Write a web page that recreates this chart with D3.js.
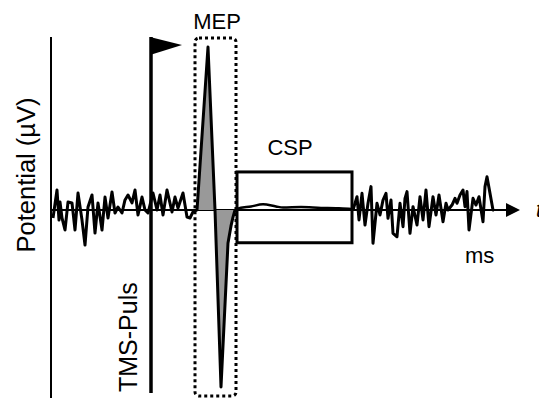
<!DOCTYPE html>
<html>
<head>
<meta charset="utf-8">
<script src="https://cdn.jsdelivr.net/npm/d3@7/dist/d3.min.js"></script>
<style>
  html, body { margin: 0; padding: 0; background: #fff; }
  svg { display: block; }
  text { font-family: "Liberation Sans", Arial, sans-serif; fill: #000; }
</style>
</head>
<body>
<script>
// Recorded EMG trace: time in ms relative to the TMS pulse, amplitude in µV.
const preStimulusNoise = [
  [-98, -45], [-94, 113], [-92, -57], [-91, 45], [-89, -45], [-86, -113],
  [-83, 45], [-79, 40], [-76, -113], [-73, 96], [-69, -57], [-66, -198],
  [-63, 17], [-59, 85], [-56, -130], [-53, 40], [-49, -113], [-46, 73],
  [-43, -45], [-39, 102], [-36, -17], [-33, 17], [-29, -17], [-26, 57],
  [-23, 85], [-19, 40], [-16, 113], [-13, -28], [-9, 73], [-6, 0],
  [-3, -17], [2, 96], [6, 0], [9, 85], [12, -28], [16, 113], [21, -11],
  [24, 73], [27, 11], [32, 96], [36, -40], [39, -45], [42, -11]
];
// Motor evoked potential: positive and negative phase.
const mepResponse = [
  [46, 0], [57, 921], [64, 0], [70, -1000], [77, -186], [80, -90], [82, -40], [84, 0]
];
// Cortical silent period: near-flat trace.
const silentPeriod = [
  [86, 6], [100, 20], [112, 32], [125, 20], [132, 14], [150, 17],
  [170, 12], [185, 10], [200, 5]
];
// Recovery of background activity.
const postSilentNoise = [
  [202, 0], [206, 75], [208, -56], [211, 94], [214, -85], [217, 38],
  [220, 132], [222, -188], [226, 38], [229, -28], [232, 56], [235, 94],
  [237, -47], [240, 56], [242, -132], [246, -151], [249, 38], [252, -94],
  [254, 66], [256, 104], [259, -132], [262, 19], [266, -85], [269, 75],
  [272, -56], [275, 113], [278, -94], [282, 75], [285, -28], [288, 85],
  [292, -66], [295, 38], [297, 0], [301, 28], [304, 66], [306, 38],
  [309, 85], [312, 113], [314, 19], [316, 104], [318, -113], [322, 66],
  [325, 28], [328, 75], [332, -66], [334, 132], [336, 188], [339, 94],
  [342, 0], [343, 0]
];

// Annotation windows (ms / µV)
const tmsPulseTime = [0];
const mepWindow = [44, 85];
const cspWindow = [86, 201];
const cspRange = [-185, 215];
const labels = {
  y: "Potential (µV)", x: "t", unit: "ms",
  pulse: "TMS-Puls", mep: "MEP", csp: "CSP"
};

const W = 539, H = 401;
const x = d3.scaleLinear().domain([-100, 369]).range([51, 520]);
const y = d3.scaleLinear().domain([-1000, 1000]).range([387, 33]);
const frameTop = 37, frameBottom = 398;

const svg = d3.select("body").append("svg")
  .attr("width", W).attr("height", H);

// Vertical axis
svg.append("line")
  .attr("x1", x(-100)).attr("x2", x(-100))
  .attr("y1", frameTop).attr("y2", frameBottom)
  .attr("stroke", "#000").attr("stroke-width", 2);

// Time axis with arrowhead
const axisEnd = x(369);
svg.append("line")
  .attr("x1", x(-100)).attr("x2", axisEnd - 12)
  .attr("y1", y(0)).attr("y2", y(0))
  .attr("stroke", "#000").attr("stroke-width", 2.2);
svg.append("path")
  .attr("d", `M${axisEnd - 14},${y(0) - 7} L${axisEnd},${y(0)} L${axisEnd - 14},${y(0) + 7} Z`)
  .attr("fill", "#000");

// Shaded MEP area
const area = d3.area()
  .x(d => x(d[0])).y0(y(0)).y1(d => y(d[1]));
svg.append("path")
  .datum(mepResponse)
  .attr("d", area)
  .attr("fill", "#999");

// Trace
const line = d3.line().x(d => x(d[0])).y(d => y(d[1]));
const trace = preStimulusNoise.concat(mepResponse);
svg.append("path")
  .datum(trace)
  .attr("d", line)
  .attr("fill", "none").attr("stroke", "#000")
  .attr("stroke-width", 3).attr("stroke-linejoin", "round");

svg.append("path")
  .datum([[84, 0]].concat(silentPeriod, [[202, 0]]))
  .attr("d", line.curve(d3.curveMonotoneX))
  .attr("fill", "none").attr("stroke", "#000")
  .attr("stroke-width", 2.5);
line.curve(d3.curveLinear);

svg.append("path")
  .datum(postSilentNoise)
  .attr("d", line)
  .attr("fill", "none").attr("stroke", "#000")
  .attr("stroke-width", 3).attr("stroke-linejoin", "round");

// TMS pulse marker with flag
const px = x(tmsPulseTime[0]);
svg.append("line")
  .attr("x1", px).attr("x2", px)
  .attr("y1", frameTop).attr("y2", 393)
  .attr("stroke", "#000").attr("stroke-width", 3.5);
svg.append("path")
  .attr("d", `M${px - 1},${frameTop} L${px + 31},${frameTop + 8} L${px - 1},${frameTop + 18} Z`)
  .attr("fill", "#000");

// MEP window (dotted)
svg.append("rect")
  .attr("x", x(mepWindow[0])).attr("y", 38)
  .attr("width", x(mepWindow[1]) - x(mepWindow[0]))
  .attr("height", 396 - 38)
  .attr("rx", 4)
  .attr("fill", "none").attr("stroke", "#000")
  .attr("stroke-width", 3).attr("stroke-dasharray", "3 3");

// CSP window
svg.append("rect")
  .attr("x", x(cspWindow[0])).attr("y", y(cspRange[1]))
  .attr("width", x(cspWindow[1]) - x(cspWindow[0]))
  .attr("height", y(cspRange[0]) - y(cspRange[1]))
  .attr("fill", "none").attr("stroke", "#000").attr("stroke-width", 3);

// Labels
const fs = 22;
svg.append("text").text(labels.mep)
  .attr("x", 217).attr("y", 29).attr("text-anchor", "middle")
  .style("font-size", fs + "px");
svg.append("text").text(labels.csp)
  .attr("x", 290).attr("y", 155).attr("text-anchor", "middle")
  .style("font-size", fs + "px");
svg.append("text").text(labels.unit)
  .attr("x", 465).attr("y", 263)
  .style("font-size", fs + "px");
svg.append("text").text(labels.x)
  .attr("x", 536).attr("y", 217)
  .style("font-size", fs + "px").style("font-style", "italic");
svg.append("text").text(labels.pulse)
  .attr("transform", `translate(137,392) rotate(-90)`)
  .style("font-size", "25px");
svg.append("text").text(labels.y)
  .attr("transform", `translate(35,175) rotate(-90)`)
  .attr("text-anchor", "middle")
  .style("font-size", "25.5px");
</script>
</body>
</html>
